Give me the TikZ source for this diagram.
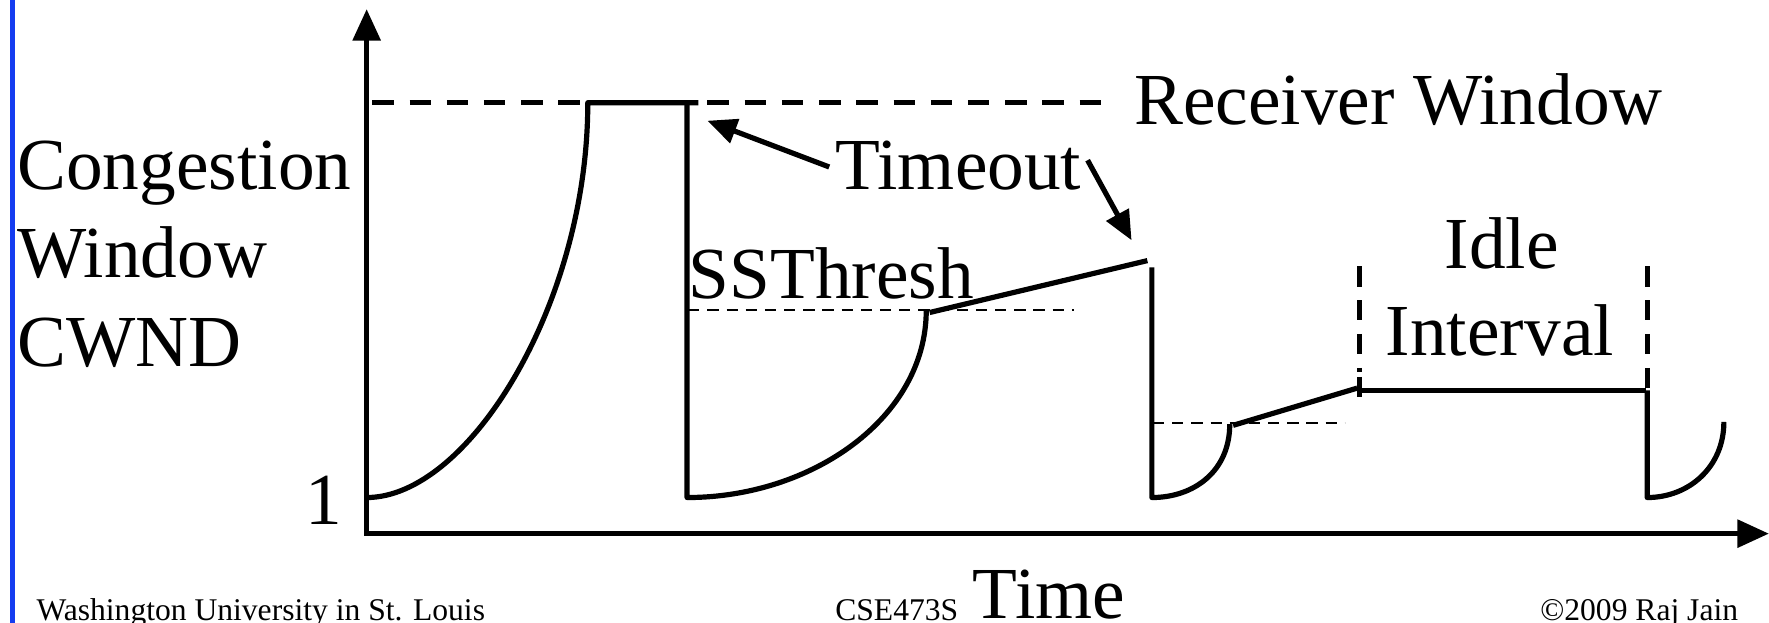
\documentclass[tikz,border=0pt]{standalone}
\usepackage{fontspec}
\setmainfont{Liberation Serif}
\usetikzlibrary{arrows.meta}
\begin{document}
\begin{tikzpicture}[x=0.5pt,y=-0.5pt,
  big/.style={inner sep=0pt,font=\fontsize{32.5pt}{39pt}\selectfont},
  small/.style={inner sep=0pt,font=\fontsize{14pt}{16pt}\selectfont},
  axis/.style={line width=2.5pt,-{Triangle[length=14pt,width=12pt]}},
  curve/.style={line width=2.3pt},
  rwin/.style={line width=2.3pt,dash pattern=on 9.5pt off 7pt},
  thr/.style={line width=1.1pt,dash pattern=on 5pt off 3.5pt},
  idle/.style={line width=2.2pt,dash pattern=on 9pt off 6pt},
  callout/.style={line width=2.3pt,-{Triangle[length=13pt,width=11pt]}}]
\useasboundingbox (0,0) rectangle (1568,552);
% blue margin line
\draw[line width=2.2pt,color={rgb,255:red,20;green,60;blue,240}] (11,0) -- (11,552);
% axes
\coordinate (ytip) at (325,8);
\coordinate (xtip) at (1568,473);
\draw[axis] (325,475) -- (ytip);
\draw[axis] (324,473) -- (xtip);
% labels
\node[big,anchor=base west] (cg) at (15,168) {Congestion};
\node[big,anchor=base west] (wn) at (15,246) {Window};
\node[big,anchor=base west] (cw) at (15,325) {CWND};
\node[big,anchor=base west] (one) at (270,465) {1};
\node[big,anchor=base west] (rw) at (1005,110) {Receiver Window};
\node[big,anchor=base west] (tmo) at (740,168) {Timeout};
\node[big,anchor=base west] (sst) at (610,265) {SSThresh};
\node[big,anchor=base] (idl) at (1331,238) {Idle};
\node[big,anchor=base west] (itv) at (1228,315) {Interval};
\node[big,anchor=base west] (tim) at (862,548) {Time};
\node[small,anchor=base west] (wu) at (32,550) {Washington University in St. Louis};
\node[small,anchor=base west] (cse) at (740,550) {CSE473S};
\node[small,anchor=base east] (cp) at (1541,550) {\textcopyright2009 Raj Jain};
% receiver window
\draw[rwin] (330,91) -- (522,91);
\draw[rwin] (627,91) -- (985,91);
% ssthresh lines
\draw[thr] (610,275) -- (952,275);
\draw[thr] (1022,375) -- (1192,375);
% cwnd trace
\draw[curve,line join=round] (325,441) .. controls (415,441) and (521,270) .. (521,91)
  -- (619,91);
\draw[curve,line join=round] (609,91) -- (609,441)
  .. controls (720,441) and (821,370) .. (821,275);
\draw[curve] (824,277) -- (1017,231);
\draw[curve,line join=round] (1021,237) -- (1021,441)
  .. controls (1058,441) and (1090,418) .. (1090,376);
\draw[curve] (1093,377) -- (1203,344);
\draw[curve] (1205,346) -- (1459,346);
\draw[curve,line join=round] (1460,346) -- (1460,441)
  .. controls (1497,441) and (1528,414) .. (1528,374);
% idle interval markers
\draw[idle] (1205,236) -- (1205,330);
\draw[curve] (1205,334) -- (1205,352);
\draw[idle] (1460,236) -- (1460,344);
% timeout callouts
\coordinate (t1) at (627,107);
\coordinate (t2) at (1003,213);
\draw[callout] (735,148) -- (t1);
\draw[callout] (964,142) -- (t2);
\end{tikzpicture}
\end{document}
